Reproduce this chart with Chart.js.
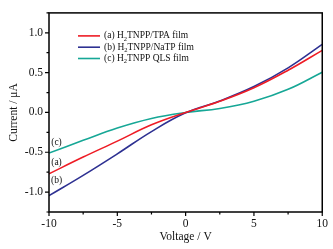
<!DOCTYPE html>
<html>
<head>
<meta charset="utf-8">
<script src="https://cdn.jsdelivr.net/npm/chart.js@4/dist/chart.umd.min.js"></script>
<style>
    html, body { margin: 0; padding: 0; background: #fff; }
    #wrap { width: 333px; height: 249px; }
</style>
</head>
<body>
<div id="wrap"><canvas id="iv"></canvas></div>
<script>
// I-V curves
const voltage = [-10, -7.5, -5, -2.5, 0, 2.5, 5, 7.5, 10];
const currentA = [-0.77, -0.56, -0.36, -0.155, 0.0, 0.14, 0.31, 0.53, 0.78];     // H2TNPP/TPA film
const currentB = [-1.045, -0.79, -0.52, -0.24, -0.005, 0.145, 0.325, 0.56, 0.855]; // H2TNPP/NaTP film
const currentC = [-0.51, -0.35, -0.195, -0.075, 0.0, 0.05, 0.14, 0.29, 0.505];   // H2TNPP QLS film

const seriesNames = ["(a) H|2|TNPP/TPA film", "(b) H|2|TNPP/NaTP film", "(c) H|2|TNPP QLS film"];
const curveTags = ["(a)", "(b)", "(c)"];
const tagPositions = [[-9.45, -0.63], [-9.45, -0.86], [-9.45, -0.38]];
const colors = ["#ee1c25", "#2e3192", "#16a796"];

const serif = "'Liberation Serif', 'DejaVu Serif', serif";

const toPoints = (ys) => voltage.map((x, i) => ({ x, y: ys[i] }));
const isMajor = (v, step) => Math.abs(v / step - Math.round(v / step)) < 1e-6;

// frame, minor/major ticks, legend and the (a)(b)(c) tags
const decorations = {
    id: "decorations",
    afterDraw(chart) {
        const { ctx, chartArea: a, scales } = chart;
        ctx.save();
        ctx.strokeStyle = "#000";
        ctx.lineWidth = 1.5;
        ctx.strokeRect(a.left, a.top, a.right - a.left, a.bottom - a.top);

        ctx.lineWidth = 1.2;
        ctx.beginPath();
        scales.x.ticks.forEach(t => {
            const px = scales.x.getPixelForValue(t.value);
            const len = isMajor(t.value, 5) ? 4 : 2.5;
            ctx.moveTo(px, a.bottom);
            ctx.lineTo(px, a.bottom + len);
        });
        scales.y.ticks.forEach(t => {
            const py = scales.y.getPixelForValue(t.value);
            const len = isMajor(t.value, 0.5) ? 4 : 2.5;
            ctx.moveTo(a.left, py);
            ctx.lineTo(a.left - len, py);
        });
        ctx.stroke();

        // legend
        const lx = a.left + 29, ly = a.top + 23, gap = 11.3;
        ctx.font = "9.5px " + serif;
        ctx.textBaseline = "middle";
        seriesNames.forEach((name, i) => {
            const y = ly + i * gap;
            ctx.strokeStyle = colors[i];
            ctx.lineWidth = 1.6;
            ctx.beginPath();
            ctx.moveTo(lx, y);
            ctx.lineTo(lx + 22, y);
            ctx.stroke();
            ctx.fillStyle = "#111";
            let x = lx + 26;
            name.split("|").forEach((part, k) => {
                if (k === 1) {
                    ctx.font = "6.5px " + serif;
                    ctx.fillText(part, x, y + 3);
                    x += ctx.measureText(part).width;
                    ctx.font = "9.5px " + serif;
                } else {
                    ctx.fillText(part, x, y);
                    x += ctx.measureText(part).width;
                }
            });
        });

        ctx.font = "9.5px " + serif;
        ctx.textAlign = "center";
        curveTags.forEach((tag, i) => {
            const [vx, vy] = tagPositions[i];
            ctx.fillText(tag, scales.x.getPixelForValue(vx), scales.y.getPixelForValue(vy));
        });
        ctx.restore();
    }
};

new Chart(document.getElementById("iv"), {
    type: "scatter",
    data: {
        datasets: [currentA, currentB, currentC].map((ys, i) => ({
            label: seriesNames[i],
            data: toPoints(ys),
            showLine: true,
            borderColor: colors[i],
            backgroundColor: colors[i],
            borderWidth: 1.6,
            pointRadius: 0,
            tension: 0.4,
        }))
    },
    options: {
        responsive: true,
        maintainAspectRatio: false,
        animation: false,
        layout: { padding: { top: 9, right: 10, left: 0, bottom: 0 } },
        plugins: {
            legend: { display: false },
            tooltip: { enabled: false },
        },
        scales: {
            x: {
                type: "linear",
                min: -10,
                max: 10,
                grid: { display: false, drawTicks: false },
                border: { display: false },
                afterFit: (scale) => { scale.height = 37; },
                ticks: {
                    stepSize: 2.5,
                    padding: 5,
                    color: "#111",
                    maxRotation: 0,
                    font: { family: serif, size: 11.5 },
                    callback: (v) => isMajor(v, 5) ? String(v) : "",
                },
                title: {
                    display: true,
                    text: "Voltage / V",
                    color: "#111",
                    font: { family: serif, size: 11.5 },
                    padding: { top: 0, bottom: 5 },
                },
            },
            y: {
                min: -1.25,
                max: 1.25,
                grid: { display: false, drawTicks: false },
                border: { display: false },
                afterFit: (scale) => { scale.width = 49; },
                ticks: {
                    stepSize: 0.25,
                    padding: 6,
                    color: "#111",
                    font: { family: serif, size: 11.5 },
                    callback: (v) => isMajor(v, 0.5) ? v.toFixed(1) : "",
                },
                title: {
                    display: true,
                    text: "Current / μA",
                    color: "#111",
                    font: { family: serif, size: 11.5 },
                    padding: { top: 7, bottom: 0 },
                },
            },
        },
    },
    plugins: [decorations],
});
</script>
</body>
</html>
